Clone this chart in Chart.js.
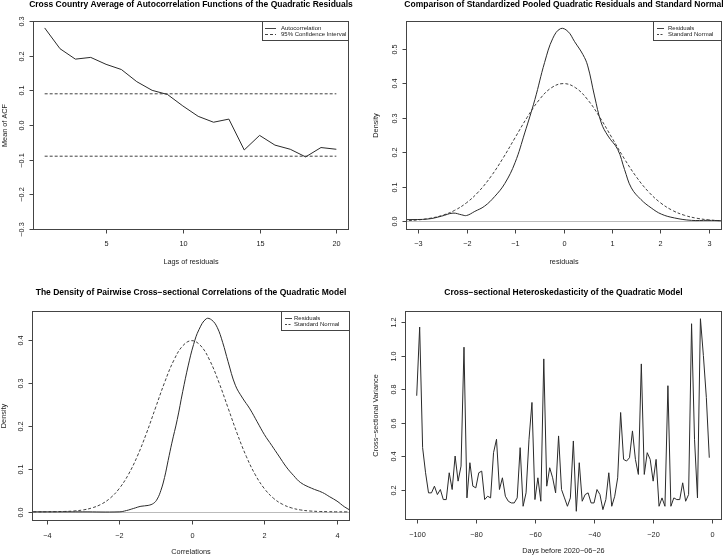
<!DOCTYPE html>
<html>
<head>
<meta charset="utf-8">
<script src="https://cdn.jsdelivr.net/npm/chart.js@4"></script>
<style>
  body { margin: 0; background: #fff; }
  #wrap { position: relative; width: 723px; height: 555px; overflow: hidden; }
  canvas { position: absolute; }
</style>
</head>
<body>
<div id="wrap">
  <canvas id="acf" width="362" height="278" style="left:0;top:0"></canvas>
  <canvas id="pooled" width="361" height="278" style="left:362px;top:0"></canvas>
  <canvas id="corr" width="362" height="277" style="left:0;top:278px"></canvas>
  <canvas id="hetero" width="361" height="277" style="left:362px;top:278px"></canvas>
</div>
<script>
// --- panel 1: mean ACF of quadratic residuals
const lags = [1, 2, 3, 4, 5, 6, 7, 8, 9, 10, 11, 12, 13, 14, 15, 16, 17, 18, 19, 20];
const acfMean = [0.28, 0.22, 0.19, 0.195, 0.175, 0.16, 0.125, 0.10, 0.088, 0.055, 0.025, 0.008, 0.017,
  -0.072, -0.03, -0.058, -0.07, -0.092, -0.065, -0.07];
const ciBounds = [0.09, -0.09];
const acfXTicks = [5, 10, 15, 20];
const acfYTicks = [-0.3, -0.2, -0.1, 0.0, 0.1, 0.2, 0.3];

// --- panel 2: pooled residual density vs standard normal
const pooledX = [-3.25, -2.79, -2.52, -2.28, -2.1, -2.0, -1.83, -1.63, -1.42, -1.21, -1.0, -0.8, -0.59,
  -0.39, -0.22, -0.06, 0.09, 0.23, 0.4, 0.5, 0.64, 0.78, 0.92, 1.12, 1.26, 1.4, 1.6, 1.81, 2.02, 2.29,
  2.64, 2.98, 3.25];
const pooledDens = [0.005, 0.007, 0.015, 0.024, 0.019, 0.017, 0.029, 0.044, 0.072, 0.11, 0.17, 0.256, 0.353,
  0.46, 0.53, 0.558, 0.55, 0.52, 0.483, 0.45, 0.363, 0.285, 0.247, 0.208, 0.15, 0.097, 0.063, 0.039, 0.021,
  0.01, 0.003, 0.003, 0.002];
const normX = [-4.5, -4.25, -4, -3.75, -3.5, -3.25, -3, -2.75, -2.5, -2.25, -2, -1.75, -1.5, -1.25, -1, -0.75,
  -0.5, -0.25, 0, 0.25, 0.5, 0.75, 1, 1.25, 1.5, 1.75, 2, 2.25, 2.5, 2.75, 3, 3.25, 3.5, 3.75, 4, 4.25, 4.5];
const normDens = [0.0000, 0.0000, 0.0001, 0.0004, 0.0009, 0.0020, 0.0044, 0.0091, 0.0175, 0.0317, 0.0540,
  0.0863, 0.1295, 0.1826, 0.2420, 0.3011, 0.3521, 0.3867, 0.3989, 0.3867, 0.3521, 0.3011, 0.2420, 0.1826,
  0.1295, 0.0863, 0.0540, 0.0317, 0.0175, 0.0091, 0.0044, 0.0020, 0.0009, 0.0004, 0.0001, 0.0000, 0.0000];
const pooledXTicks = [-3, -2, -1, 0, 1, 2, 3];
const pooledYTicks = [0.0, 0.1, 0.2, 0.3, 0.4, 0.5];

// --- panel 3: pairwise cross-sectional correlations
const corrX = [-4.4, -3.0, -2.0, -1.8, -1.6, -1.4, -1.2, -1.05, -0.95, -0.85, -0.75, -0.65, -0.55, -0.4,
  -0.25, -0.1, 0.05, 0.2, 0.4, 0.55, 0.7, 0.85, 1.0, 1.2, 1.4, 1.6, 1.8, 2.0, 2.2, 2.4, 2.6, 2.8, 3.0, 3.3,
  3.6, 3.8, 4.0, 4.2, 4.4];
const corrDens = [0, 0, 0.0, 0.003, 0.008, 0.013, 0.015, 0.02, 0.03, 0.05, 0.08, 0.12, 0.16, 0.215, 0.28,
  0.34, 0.39, 0.425, 0.45, 0.447, 0.43, 0.395, 0.35, 0.295, 0.265, 0.24, 0.21, 0.18, 0.155, 0.13, 0.105,
  0.085, 0.068, 0.055, 0.045, 0.035, 0.025, 0.012, 0.002];
const corrXTicks = [-4, -2, 0, 2, 4];
const corrYTicks = [0.0, 0.1, 0.2, 0.3, 0.4];

// --- panel 4: cross-sectional variance by day
const days = [];
for (let d = -100; d <= -1; d++) days.push(d);
const xsVariance = [0.76, 1.17, 0.45, 0.30, 0.18, 0.18, 0.22, 0.17, 0.20, 0.14,
  0.14, 0.30, 0.20, 0.40, 0.25, 0.34, 1.05, 0.15, 0.36, 0.22,
  0.21, 0.30, 0.31, 0.14, 0.16, 0.15, 0.42, 0.50, 0.20, 0.27,
  0.16, 0.13, 0.12, 0.12, 0.15, 0.45, 0.10, 0.18, 0.50, 0.72,
  0.14, 0.27, 0.13, 0.98, 0.22, 0.33, 0.27, 0.18, 0.52, 0.20,
  0.15, 0.10, 0.15, 0.49, 0.07, 0.36, 0.13, 0.17, 0.18, 0.12,
  0.12, 0.20, 0.17, 0.08, 0.14, 0.30, 0.10, 0.16, 0.27, 0.66,
  0.38, 0.37, 0.39, 0.55, 0.38, 0.29, 0.95, 0.29, 0.42, 0.38,
  0.25, 0.38, 0.10, 0.15, 0.10, 0.82, 0.10, 0.15, 0.14, 0.14,
  0.24, 0.13, 0.17, 1.19, 0.50, 0.15, 1.22, 1.00, 0.75, 0.39];
const heteroXTicks = [-100, -80, -60, -40, -20, 0];
const heteroYTicks = [0.2, 0.4, 0.6, 0.8, 1.0, 1.2];

const FONT = '"Liberation Sans", Arial, Helvetica, sans-serif';
const INK = '#2a2a2a';

function fmt(v, dec) {
  return v.toFixed(dec).replace('-', '\u2212');
}

function pts(xs, ys) {
  return xs.map((x, i) => ({ x: x, y: ys[i] }));
}

// base-R style frame, ticks, labels, titles and legend
const rStyle = {
  id: 'rStyle',
  beforeDatasetsDraw(chart, args, o) {
    if (!o.zeroLine) return;
    const { ctx, chartArea: a, scales } = chart;
    const py = Math.round(scales.y.getPixelForValue(0)) + 0.5;
    ctx.save();
    ctx.strokeStyle = '#bbb';
    ctx.lineWidth = 1;
    ctx.beginPath();
    ctx.moveTo(a.left, py);
    ctx.lineTo(a.right, py);
    ctx.stroke();
    ctx.restore();
  },
  afterDraw(chart, args, o) {
    const { ctx, chartArea: a, scales } = chart;
    const L = Math.round(a.left) + 0.5, R = Math.round(a.right) + 0.5;
    const T = Math.round(a.top) + 0.5, B = Math.round(a.bottom) + 0.5;
    ctx.save();
    ctx.strokeStyle = '#444';
    ctx.fillStyle = '#222';
    ctx.lineWidth = 1;
    ctx.strokeRect(L, T, R - L, B - T);

    ctx.font = '7.3px ' + FONT;
    ctx.textAlign = 'center';
    ctx.textBaseline = 'middle';
    o.xTicks.forEach(v => {
      const px = Math.round(scales.x.getPixelForValue(v)) + 0.5;
      ctx.beginPath();
      ctx.moveTo(px, B);
      ctx.lineTo(px, B + 4);
      ctx.stroke();
      ctx.fillText(fmt(v, 0), px, B + o.xLabGap);
    });
    o.yTicks.forEach(v => {
      const py = Math.round(scales.y.getPixelForValue(v)) + 0.5;
      ctx.beginPath();
      ctx.moveTo(L - 4, py);
      ctx.lineTo(L, py);
      ctx.stroke();
      ctx.save();
      ctx.translate(L - 12, py);
      ctx.rotate(-Math.PI / 2);
      ctx.fillText(fmt(v, 1), 0, 0);
      ctx.restore();
    });

    // axis titles
    ctx.fillText(o.xTitle, (L + R) / 2, B + o.xTitleGap);
    ctx.save();
    ctx.translate(L - o.yTitleGap, (T + B) / 2);
    ctx.rotate(-Math.PI / 2);
    ctx.fillText(o.yTitle, 0, 0);
    ctx.restore();

    // main title
    ctx.font = 'bold 8.5px ' + FONT;
    ctx.fillStyle = '#000';
    ctx.fillText(o.title, (L + R) / 2, o.titleY);

    // legend box in the top right corner
    if (o.legend) {
      const lg = o.legend;
      ctx.fillStyle = '#fff';
      ctx.fillRect(lg.left, T, R - lg.left, 19);
      ctx.strokeRect(lg.left + 0.5, T, R - lg.left - 0.5, 19);
      ctx.font = '6px ' + FONT;
      ctx.textAlign = 'left';
      ctx.fillStyle = '#222';
      lg.items.forEach((it, i) => {
        const yy = Math.round(T + 6.5 + i * 6.3) + 0.5;
        ctx.setLineDash(it.dash);
        ctx.beginPath();
        ctx.moveTo(lg.left + lg.s0, yy);
        ctx.lineTo(lg.left + lg.s1, yy);
        ctx.stroke();
        ctx.setLineDash([]);
        ctx.fillText(it.text, lg.left + lg.tx, yy);
      });
    }
    ctx.restore();
  }
};

function panel(id, datasets, xr, yr, pad, frame) {
  return new Chart(document.getElementById(id), {
    type: 'scatter',
    data: { datasets: datasets },
    options: {
      responsive: false,
      animation: false,
      devicePixelRatio: 1,
      layout: { padding: pad },
      elements: { point: { radius: 0 } },
      scales: {
        x: { type: 'linear', min: xr[0], max: xr[1], display: false },
        y: { type: 'linear', min: yr[0], max: yr[1], display: false }
      },
      plugins: {
        legend: { display: false },
        tooltip: { enabled: false },
        rStyle: frame
      }
    },
    plugins: [rStyle]
  });
}

function solid(data, tension) {
  return { data: data, showLine: true, borderColor: INK, borderWidth: 1, tension: tension, pointRadius: 0 };
}
function dashed(data, tension) {
  return { data: data, showLine: true, borderColor: INK, borderWidth: 0.9, borderDash: [3, 2],
    tension: tension, pointRadius: 0 };
}

const lastLag = lags[lags.length - 1];
panel('acf', [
  solid(pts(lags, acfMean), 0),
  dashed([{ x: lags[0], y: ciBounds[0] }, { x: lastLag, y: ciBounds[0] }], 0),
  dashed([{ x: lags[0], y: ciBounds[1] }, { x: lastLag, y: ciBounds[1] }], 0)
], [0.24, 20.76], [-0.3, 0.3], { left: 33, right: 14, top: 21, bottom: 49 }, {
  title: 'Cross Country Average of Autocorrelation Functions of the Quadratic Residuals', titleY: 5,
  xTitle: 'Lags of residuals', yTitle: 'Mean of ACF',
  xTicks: acfXTicks, yTicks: acfYTicks, xLabGap: 14, xTitleGap: 32, yTitleGap: 29,
  legend: { left: 262, s0: 3, s1: 14, tx: 19, items: [
    { text: 'Autocorrelation', dash: [] },
    { text: '95% Confidence Interval', dash: [3, 2] }] }
});

panel('pooled', [
  solid(pts(pooledX, pooledDens), 0.4),
  dashed(pts(normX, normDens), 0.4)
], [-3.25, 3.25], [-0.022, 0.58], { left: 44, right: 2, top: 21, bottom: 49 }, {
  title: 'Comparison of Standardized Pooled Quadratic Residuals and Standard Normal', titleY: 5,
  xTitle: 'residuals', yTitle: 'Density', zeroLine: true,
  xTicks: pooledXTicks, yTicks: pooledYTicks, xLabGap: 14, xTitleGap: 32, yTitleGap: 31,
  legend: { left: 291, s0: 4, s1: 11, tx: 15, items: [
    { text: 'Residuals', dash: [] },
    { text: 'Standard Normal', dash: [2, 1.5] }] }
});

panel('corr', [
  solid(pts(corrX, corrDens), 0.4),
  dashed(pts(normX, normDens), 0.4)
], [-4.4, 4.33], [-0.019, 0.468], { left: 32, right: 13, top: 33, bottom: 35 }, {
  title: 'The Density of Pairwise Cross\u2212sectional Correlations of the Quadratic Model', titleY: 14.5,
  xTitle: 'Correlations', yTitle: 'Density', zeroLine: true,
  xTicks: corrXTicks, yTicks: corrYTicks, xLabGap: 15, xTitleGap: 31, yTitleGap: 29,
  legend: { left: 281, s0: 4, s1: 11, tx: 13, items: [
    { text: 'Residuals', dash: [] },
    { text: 'Standard Normal', dash: [2, 1.5] }] }
});

panel('hetero', [
  solid(pts(days, xsVariance), 0)
], [-103.96, 2.96], [0.024, 1.266], { left: 43, right: 2, top: 33, bottom: 36 }, {
  title: 'Cross\u2212sectional Heteroskedasticity of the Quadratic Model', titleY: 15,
  xTitle: 'Days before 2020\u221206\u221226', yTitle: 'Cross\u2212sectional Variance',
  xTicks: heteroXTicks, yTicks: heteroYTicks, xLabGap: 15, xTitleGap: 31, yTitleGap: 30
});
</script>
</body>
</html>
